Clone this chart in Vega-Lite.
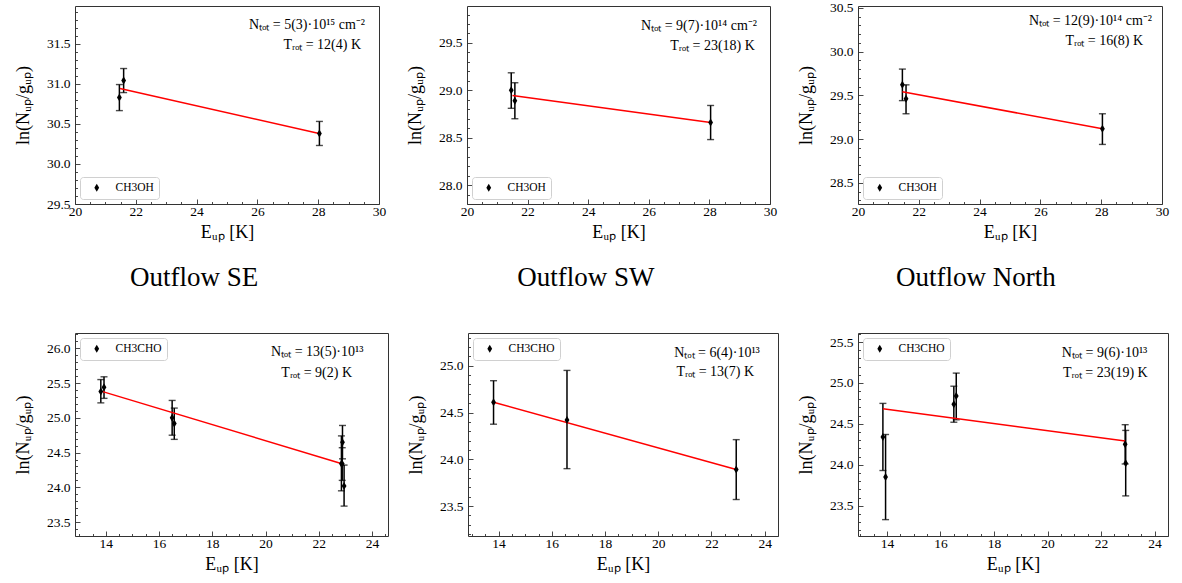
{
  "$schema": "https://vega.github.io/schema/vega-lite/v6.json",
  "padding": {"left": 13, "top": 0, "right": 5, "bottom": 5},
  "background": "white",
  "datasets": {
    "t1": [
      {"E": 21.46, "lnN": 30.83, "lo": 30.665, "hi": 30.99, "mol": "CH3OH"},
      {"E": 21.6, "lnN": 31.04, "lo": 30.89, "hi": 31.19, "mol": "CH3OH"},
      {"E": 28.04, "lnN": 30.38, "lo": 30.23, "hi": 30.53, "mol": "CH3OH"}
    ],
    "f1": [{"E": 21.48, "lnN": 30.94}, {"E": 28.03, "lnN": 30.38}],
    "t2": [
      {"E": 21.46, "lnN": 29.0, "lo": 28.81, "hi": 29.185, "mol": "CH3OH"},
      {"E": 21.58, "lnN": 28.89, "lo": 28.7, "hi": 29.08, "mol": "CH3OH"},
      {"E": 28.04, "lnN": 28.66, "lo": 28.48, "hi": 28.84, "mol": "CH3OH"}
    ],
    "f2": [{"E": 21.5, "lnN": 28.945}, {"E": 28.04, "lnN": 28.66}],
    "t3": [
      {"E": 21.46, "lnN": 29.62, "lo": 29.44, "hi": 29.8, "mol": "CH3OH"},
      {"E": 21.58, "lnN": 29.46, "lo": 29.29, "hi": 29.62, "mol": "CH3OH"},
      {"E": 28.04, "lnN": 29.12, "lo": 28.94, "hi": 29.29, "mol": "CH3OH"}
    ],
    "f3": [{"E": 21.46, "lnN": 29.54}, {"E": 28.04, "lnN": 29.12}],
    "b1": [
      {"E": 13.81, "lnN": 25.38, "lo": 25.215, "hi": 25.55, "mol": "CH3CHO"},
      {"E": 13.93, "lnN": 25.44, "lo": 25.28, "hi": 25.59, "mol": "CH3CHO"},
      {"E": 16.49, "lnN": 25.0, "lo": 24.75, "hi": 25.25, "mol": "CH3CHO"},
      {"E": 16.57, "lnN": 24.92, "lo": 24.69, "hi": 25.14, "mol": "CH3CHO"},
      {"E": 22.89, "lnN": 24.65, "lo": 24.41, "hi": 24.89, "mol": "CH3CHO"},
      {"E": 22.85, "lnN": 24.34, "lo": 23.95, "hi": 24.74, "mol": "CH3CHO"},
      {"E": 22.88, "lnN": 24.34, "lo": 24.1, "hi": 24.57, "mol": "CH3CHO"},
      {"E": 22.95, "lnN": 24.02, "lo": 23.73, "hi": 24.32, "mol": "CH3CHO"}
    ],
    "g1": [{"E": 13.85, "lnN": 25.38}, {"E": 22.87, "lnN": 24.34}],
    "b2": [
      {"E": 13.81, "lnN": 24.61, "lo": 24.375, "hi": 24.84, "mol": "CH3CHO"},
      {"E": 16.57, "lnN": 24.42, "lo": 23.9, "hi": 24.95, "mol": "CH3CHO"},
      {"E": 22.93, "lnN": 23.89, "lo": 23.57, "hi": 24.21, "mol": "CH3CHO"}
    ],
    "g2": [{"E": 13.81, "lnN": 24.61}, {"E": 22.93, "lnN": 23.89}],
    "b3": [
      {"E": 13.85, "lnN": 24.34, "lo": 23.93, "hi": 24.75, "mol": "CH3CHO"},
      {"E": 13.95, "lnN": 23.85, "lo": 23.33, "hi": 24.37, "mol": "CH3CHO"},
      {"E": 16.5, "lnN": 24.74, "lo": 24.52, "hi": 24.96, "mol": "CH3CHO"},
      {"E": 16.59, "lnN": 24.84, "lo": 24.55, "hi": 25.12, "mol": "CH3CHO"},
      {"E": 22.9, "lnN": 24.25, "lo": 24.01, "hi": 24.49, "mol": "CH3CHO"},
      {"E": 22.92, "lnN": 24.02, "lo": 23.62, "hi": 24.42, "mol": "CH3CHO"}
    ],
    "g3": [{"E": 13.85, "lnN": 24.685}, {"E": 22.9, "lnN": 24.29}],
    "one": [{"k": 1}]
  },
  "config": {
    "font": "Liberation Serif",
    "view": {"stroke": "#333", "strokeWidth": 1},
    "axis": {
      "domain": false, "grid": false,
      "labelFont": "Liberation Serif", "labelFontSize": 13.5, "labelColor": "black",
      "tickColor": "#333", "tickWidth": 0.9,
      "titleFont": "Liberation Serif", "titleFontSize": 18, "titleFontWeight": "normal", "titleColor": "black"
    },
    "axisX": {"labelPadding": 5, "titlePadding": 6},
    "axisY": {"labelPadding": 10, "titlePadding": 14},
    "legend": {
      "title": null, "offset": 5, "padding": 5, "strokeColor": "#d0d0d0", "cornerRadius": 3,
      "fillColor": "white", "labelFont": "Liberation Serif", "labelFontSize": 11.5, "labelColor": "black",
      "symbolSize": 64, "labelOffset": 13, "symbolOffset": 6, "symbolStrokeWidth": 0
    },
    "title": {"font": "Liberation Serif", "fontSize": 27, "fontWeight": "normal", "color": "black", "anchor": "middle", "frame": "bounds", "offset": 41, "dx": -7},
    "text": {"font": "Liberation Serif", "fontSize": 14, "color": "black", "align": "center", "baseline": "middle"}
  },
  "resolve": {"scale": {"color": "independent"}, "legend": {"color": "independent"}},
  "spacing": 21,
  "vconcat": [
    {
      "hconcat": [
        {
          "width": 304, "height": 198,
          "resolve": {"axis": {"x": "independent", "y": "independent"}},
          "layer": [
            {"layer": [
              {"data": {"name": "t1"}, "mark": {"type": "rule", "color": "black", "strokeWidth": 1.5},
               "encoding": {
                 "x": {"field": "E", "type": "quantitative", "scale": {"domain": [20, 30], "nice": false, "zero": false},
                       "axis": {"orient": "bottom", "title": "Eᵤₚ [K]", "labelOverlap": false, "labelFlush": false, "values": [20,22,24,26,28,30], "format": "d", "tickSize": -5}},
                 "y": {"field": "lo", "type": "quantitative", "scale": {"domain": [29.5, 31.97], "nice": false, "zero": false},
                       "axis": {"orient": "left", "title": "ln(Nᵤₚ/gᵤₚ)", "labelOverlap": false, "labelFlush": false, "values": [29.5,30.0,30.5,31.0,31.5], "format": ".1f", "tickSize": -5}},
                 "y2": {"field": "hi"}}},
              {"data": {"name": "t1"}, "mark": {"type": "tick", "orient": "horizontal", "color": "black", "size": 7, "thickness": 1.4},
               "encoding": {"x": {"field": "E", "type": "quantitative"}, "y": {"field": "lo", "type": "quantitative"}}},
              {"data": {"name": "t1"}, "mark": {"type": "tick", "orient": "horizontal", "color": "black", "size": 7, "thickness": 1.4},
               "encoding": {"x": {"field": "E", "type": "quantitative"}, "y": {"field": "hi", "type": "quantitative"}}},
              {"data": {"name": "f1"}, "mark": {"type": "line", "color": "red", "strokeWidth": 1.5},
               "encoding": {"x": {"field": "E", "type": "quantitative"}, "y": {"field": "lnN", "type": "quantitative"}}},
              {"data": {"name": "t1"}, "mark": {"type": "point", "shape": "M0,-1L0.6,0L0,1L-0.6,0Z", "filled": true, "opacity": 1, "size": 64},
               "encoding": {"x": {"field": "E", "type": "quantitative"}, "y": {"field": "lnN", "type": "quantitative"},
                            "color": {"field": "mol", "type": "nominal", "scale": {"range": ["black"]}, "legend": {"orient": "bottom-left"}}}},
              {"data": {"name": "one"}, "mark": {"type": "text", "align": "right"}, "encoding": {"x": {"datum": 29.54, "type": "quantitative"}, "y": {"datum": 31.735, "type": "quantitative"}, "text": {"value": "Nₜₒₜ = 5(3)·10¹⁵ cm⁻²"}}},
              {"data": {"name": "one"}, "mark": {"type": "text", "align": "right"}, "encoding": {"x": {"datum": 29.41, "type": "quantitative"}, "y": {"datum": 31.484, "type": "quantitative"}, "text": {"value": "Tᵣₒₜ = 12(4) K"}}}
            ]},
            {"data": {"name": "f1"}, "mark": {"type": "point", "opacity": 0},
             "encoding": {
               "x": {"field": "E", "type": "quantitative", "scale": {"domain": [20, 30], "nice": false, "zero": false},
                     "axis": {"orient": "bottom", "title": null, "labels": false, "values": [20.5,21,21.5,22.5,23,23.5,24.5,25,25.5,26.5,27,27.5,28.5,29,29.5], "tickSize": -2.5}},
               "y": {"field": "lnN", "type": "quantitative", "scale": {"domain": [29.5, 31.97], "nice": false, "zero": false},
                     "axis": {"orient": "left", "title": null, "labels": false, "values": [29.6,29.7,29.8,29.9,30.1,30.2,30.3,30.4,30.6,30.7,30.8,30.9,31.1,31.2,31.3,31.4,31.6,31.7,31.8,31.9], "tickSize": -2.5}}}}
          ]
        },
        {
          "width": 303, "height": 198,
          "resolve": {"axis": {"x": "independent", "y": "independent"}},
          "layer": [
            {"layer": [
              {"data": {"name": "t2"}, "mark": {"type": "rule", "color": "black", "strokeWidth": 1.5},
               "encoding": {
                 "x": {"field": "E", "type": "quantitative", "scale": {"domain": [20, 30], "nice": false, "zero": false},
                       "axis": {"orient": "bottom", "title": "Eᵤₚ [K]", "labelOverlap": false, "labelFlush": false, "values": [20,22,24,26,28,30], "format": "d", "tickSize": -5}},
                 "y": {"field": "lo", "type": "quantitative", "scale": {"domain": [27.8, 29.89], "nice": false, "zero": false},
                       "axis": {"orient": "left", "title": "ln(Nᵤₚ/gᵤₚ)", "labelOverlap": false, "labelFlush": false, "values": [28.0,28.5,29.0,29.5], "format": ".1f", "tickSize": -5}},
                 "y2": {"field": "hi"}}},
              {"data": {"name": "t2"}, "mark": {"type": "tick", "orient": "horizontal", "color": "black", "size": 7, "thickness": 1.4},
               "encoding": {"x": {"field": "E", "type": "quantitative"}, "y": {"field": "lo", "type": "quantitative"}}},
              {"data": {"name": "t2"}, "mark": {"type": "tick", "orient": "horizontal", "color": "black", "size": 7, "thickness": 1.4},
               "encoding": {"x": {"field": "E", "type": "quantitative"}, "y": {"field": "hi", "type": "quantitative"}}},
              {"data": {"name": "f2"}, "mark": {"type": "line", "color": "red", "strokeWidth": 1.5},
               "encoding": {"x": {"field": "E", "type": "quantitative"}, "y": {"field": "lnN", "type": "quantitative"}}},
              {"data": {"name": "t2"}, "mark": {"type": "point", "shape": "M0,-1L0.6,0L0,1L-0.6,0Z", "filled": true, "opacity": 1, "size": 64},
               "encoding": {"x": {"field": "E", "type": "quantitative"}, "y": {"field": "lnN", "type": "quantitative"},
                            "color": {"field": "mol", "type": "nominal", "scale": {"range": ["black"]}, "legend": {"orient": "bottom-left"}}}},
              {"data": {"name": "one"}, "mark": {"type": "text", "align": "right"}, "encoding": {"x": {"datum": 29.57, "type": "quantitative"}, "y": {"datum": 29.68, "type": "quantitative"}, "text": {"value": "Nₜₒₜ = 9(7)·10¹⁴ cm⁻²"}}},
              {"data": {"name": "one"}, "mark": {"type": "text", "align": "right"}, "encoding": {"x": {"datum": 29.5, "type": "quantitative"}, "y": {"datum": 29.47, "type": "quantitative"}, "text": {"value": "Tᵣₒₜ = 23(18) K"}}}
            ]},
            {"data": {"name": "f2"}, "mark": {"type": "point", "opacity": 0},
             "encoding": {
               "x": {"field": "E", "type": "quantitative", "scale": {"domain": [20, 30], "nice": false, "zero": false},
                     "axis": {"orient": "bottom", "title": null, "labels": false, "values": [20.5,21,21.5,22.5,23,23.5,24.5,25,25.5,26.5,27,27.5,28.5,29,29.5], "tickSize": -2.5}},
               "y": {"field": "lnN", "type": "quantitative", "scale": {"domain": [27.8, 29.89], "nice": false, "zero": false},
                     "axis": {"orient": "left", "title": null, "labels": false, "values": [27.8,27.9,28.1,28.2,28.3,28.4,28.6,28.7,28.8,28.9,29.1,29.2,29.3,29.4,29.6,29.7,29.8], "tickSize": -2.5}}}}
          ]
        },
        {
          "width": 304, "height": 198,
          "resolve": {"axis": {"x": "independent", "y": "independent"}},
          "layer": [
            {"layer": [
              {"data": {"name": "t3"}, "mark": {"type": "rule", "color": "black", "strokeWidth": 1.5},
               "encoding": {
                 "x": {"field": "E", "type": "quantitative", "scale": {"domain": [20, 30], "nice": false, "zero": false},
                       "axis": {"orient": "bottom", "title": "Eᵤₚ [K]", "labelOverlap": false, "labelFlush": false, "values": [20,22,24,26,28,30], "format": "d", "tickSize": -5}},
                 "y": {"field": "lo", "type": "quantitative", "scale": {"domain": [28.26, 30.52], "nice": false, "zero": false},
                       "axis": {"orient": "left", "title": "ln(Nᵤₚ/gᵤₚ)", "labelOverlap": false, "labelFlush": false, "values": [28.5,29.0,29.5,30.0,30.5], "format": ".1f", "tickSize": -5}},
                 "y2": {"field": "hi"}}},
              {"data": {"name": "t3"}, "mark": {"type": "tick", "orient": "horizontal", "color": "black", "size": 7, "thickness": 1.4},
               "encoding": {"x": {"field": "E", "type": "quantitative"}, "y": {"field": "lo", "type": "quantitative"}}},
              {"data": {"name": "t3"}, "mark": {"type": "tick", "orient": "horizontal", "color": "black", "size": 7, "thickness": 1.4},
               "encoding": {"x": {"field": "E", "type": "quantitative"}, "y": {"field": "hi", "type": "quantitative"}}},
              {"data": {"name": "f3"}, "mark": {"type": "line", "color": "red", "strokeWidth": 1.5},
               "encoding": {"x": {"field": "E", "type": "quantitative"}, "y": {"field": "lnN", "type": "quantitative"}}},
              {"data": {"name": "t3"}, "mark": {"type": "point", "shape": "M0,-1L0.6,0L0,1L-0.6,0Z", "filled": true, "opacity": 1, "size": 64},
               "encoding": {"x": {"field": "E", "type": "quantitative"}, "y": {"field": "lnN", "type": "quantitative"},
                            "color": {"field": "mol", "type": "nominal", "scale": {"range": ["black"]}, "legend": {"orient": "bottom-left"}}}},
              {"data": {"name": "one"}, "mark": {"type": "text", "align": "right"}, "encoding": {"x": {"datum": 29.67, "type": "quantitative"}, "y": {"datum": 30.347, "type": "quantitative"}, "text": {"value": "Nₜₒₜ = 12(9)·10¹⁴ cm⁻²"}}},
              {"data": {"name": "one"}, "mark": {"type": "text", "align": "right"}, "encoding": {"x": {"datum": 29.38, "type": "quantitative"}, "y": {"datum": 30.115, "type": "quantitative"}, "text": {"value": "Tᵣₒₜ = 16(8) K"}}}
            ]},
            {"data": {"name": "f3"}, "mark": {"type": "point", "opacity": 0},
             "encoding": {
               "x": {"field": "E", "type": "quantitative", "scale": {"domain": [20, 30], "nice": false, "zero": false},
                     "axis": {"orient": "bottom", "title": null, "labels": false, "values": [20.5,21,21.5,22.5,23,23.5,24.5,25,25.5,26.5,27,27.5,28.5,29,29.5], "tickSize": -2.5}},
               "y": {"field": "lnN", "type": "quantitative", "scale": {"domain": [28.26, 30.52], "nice": false, "zero": false},
                     "axis": {"orient": "left", "title": null, "labels": false, "values": [28.3,28.4,28.6,28.7,28.8,28.9,29.1,29.2,29.3,29.4,29.6,29.7,29.8,29.9,30.1,30.2,30.3,30.4], "tickSize": -2.5}}}}
          ]
        }
      ],
      "spacing": 88,
      "bounds": "flush",
      "resolve": {"scale": {"color": "independent"}, "legend": {"color": "independent"}}
    },
    {
      "hconcat": [
        {
          "width": 313, "height": 203,
          "title": {"text": "Outflow SE"},
          "resolve": {"axis": {"x": "independent", "y": "independent"}},
          "layer": [
            {"layer": [
              {"data": {"name": "b1"}, "mark": {"type": "rule", "color": "black", "strokeWidth": 1.5},
               "encoding": {
                 "x": {"field": "E", "type": "quantitative", "scale": {"domain": [12.84, 24.6], "nice": false, "zero": false},
                       "axis": {"orient": "bottom", "title": "Eᵤₚ [K]", "labelOverlap": false, "labelFlush": false, "values": [14,16,18,20,22,24], "format": "d", "tickSize": -5}},
                 "y": {"field": "lo", "type": "quantitative", "scale": {"domain": [23.3, 26.22], "nice": false, "zero": false},
                       "axis": {"orient": "left", "title": "ln(Nᵤₚ/gᵤₚ)", "labelOverlap": false, "labelFlush": false, "values": [23.5,24.0,24.5,25.0,25.5,26.0], "format": ".1f", "tickSize": -5}},
                 "y2": {"field": "hi"}}},
              {"data": {"name": "b1"}, "mark": {"type": "tick", "orient": "horizontal", "color": "black", "size": 7, "thickness": 1.4},
               "encoding": {"x": {"field": "E", "type": "quantitative"}, "y": {"field": "lo", "type": "quantitative"}}},
              {"data": {"name": "b1"}, "mark": {"type": "tick", "orient": "horizontal", "color": "black", "size": 7, "thickness": 1.4},
               "encoding": {"x": {"field": "E", "type": "quantitative"}, "y": {"field": "hi", "type": "quantitative"}}},
              {"data": {"name": "g1"}, "mark": {"type": "line", "color": "red", "strokeWidth": 1.5},
               "encoding": {"x": {"field": "E", "type": "quantitative"}, "y": {"field": "lnN", "type": "quantitative"}}},
              {"data": {"name": "b1"}, "mark": {"type": "point", "shape": "M0,-1L0.6,0L0,1L-0.6,0Z", "filled": true, "opacity": 1, "size": 64},
               "encoding": {"x": {"field": "E", "type": "quantitative"}, "y": {"field": "lnN", "type": "quantitative"},
                            "color": {"field": "mol", "type": "nominal", "scale": {"range": ["black"]}, "legend": {"orient": "top-left"}}}},
              {"data": {"name": "one"}, "mark": {"type": "text"}, "encoding": {"x": {"datum": 21.94, "type": "quantitative"}, "y": {"datum": 25.95, "type": "quantitative"}, "text": {"value": "Nₜₒₜ = 13(5)·10¹³"}}},
              {"data": {"name": "one"}, "mark": {"type": "text"}, "encoding": {"x": {"datum": 21.92, "type": "quantitative"}, "y": {"datum": 25.65, "type": "quantitative"}, "text": {"value": "Tᵣₒₜ = 9(2) K"}}}
            ]},
            {"data": {"name": "g1"}, "mark": {"type": "point", "opacity": 0},
             "encoding": {
               "x": {"field": "E", "type": "quantitative", "scale": {"domain": [12.84, 24.6], "nice": false, "zero": false},
                     "axis": {"orient": "bottom", "title": null, "labels": false, "values": [13,13.5,14.5,15,15.5,16.5,17,17.5,18.5,19,19.5,20.5,21,21.5,22.5,23,23.5,24.5], "tickSize": -2.5}},
               "y": {"field": "lnN", "type": "quantitative", "scale": {"domain": [23.3, 26.22], "nice": false, "zero": false},
                     "axis": {"orient": "left", "title": null, "labels": false, "values": [23.3,23.4,23.6,23.7,23.8,23.9,24.1,24.2,24.3,24.4,24.6,24.7,24.8,24.9,25.1,25.2,25.3,25.4,25.6,25.7,25.8,25.9,26.1,26.2], "tickSize": -2.5}}}}
          ]
        },
        {
          "width": 310, "height": 203,
          "title": {"text": "Outflow SW"},
          "resolve": {"axis": {"x": "independent", "y": "independent"}},
          "layer": [
            {"layer": [
              {"data": {"name": "b2"}, "mark": {"type": "rule", "color": "black", "strokeWidth": 1.5},
               "encoding": {
                 "x": {"field": "E", "type": "quantitative", "scale": {"domain": [12.85, 24.5], "nice": false, "zero": false},
                       "axis": {"orient": "bottom", "title": "Eᵤₚ [K]", "labelOverlap": false, "labelFlush": false, "values": [14,16,18,20,22,24], "format": "d", "tickSize": -5}},
                 "y": {"field": "lo", "type": "quantitative", "scale": {"domain": [23.18, 25.35], "nice": false, "zero": false},
                       "axis": {"orient": "left", "title": "ln(Nᵤₚ/gᵤₚ)", "labelOverlap": false, "labelFlush": false, "values": [23.5,24.0,24.5,25.0], "format": ".1f", "tickSize": -5}},
                 "y2": {"field": "hi"}}},
              {"data": {"name": "b2"}, "mark": {"type": "tick", "orient": "horizontal", "color": "black", "size": 7, "thickness": 1.4},
               "encoding": {"x": {"field": "E", "type": "quantitative"}, "y": {"field": "lo", "type": "quantitative"}}},
              {"data": {"name": "b2"}, "mark": {"type": "tick", "orient": "horizontal", "color": "black", "size": 7, "thickness": 1.4},
               "encoding": {"x": {"field": "E", "type": "quantitative"}, "y": {"field": "hi", "type": "quantitative"}}},
              {"data": {"name": "g2"}, "mark": {"type": "line", "color": "red", "strokeWidth": 1.5},
               "encoding": {"x": {"field": "E", "type": "quantitative"}, "y": {"field": "lnN", "type": "quantitative"}}},
              {"data": {"name": "b2"}, "mark": {"type": "point", "shape": "M0,-1L0.6,0L0,1L-0.6,0Z", "filled": true, "opacity": 1, "size": 64},
               "encoding": {"x": {"field": "E", "type": "quantitative"}, "y": {"field": "lnN", "type": "quantitative"},
                            "color": {"field": "mol", "type": "nominal", "scale": {"range": ["black"]}, "legend": {"orient": "top-left"}}}},
              {"data": {"name": "one"}, "mark": {"type": "text"}, "encoding": {"x": {"datum": 22.21, "type": "quantitative"}, "y": {"datum": 25.14, "type": "quantitative"}, "text": {"value": "Nₜₒₜ = 6(4)·10¹³"}}},
              {"data": {"name": "one"}, "mark": {"type": "text"}, "encoding": {"x": {"datum": 22.14, "type": "quantitative"}, "y": {"datum": 24.93, "type": "quantitative"}, "text": {"value": "Tᵣₒₜ = 13(7) K"}}}
            ]},
            {"data": {"name": "g2"}, "mark": {"type": "point", "opacity": 0},
             "encoding": {
               "x": {"field": "E", "type": "quantitative", "scale": {"domain": [12.85, 24.5], "nice": false, "zero": false},
                     "axis": {"orient": "bottom", "title": null, "labels": false, "values": [13,13.5,14.5,15,15.5,16.5,17,17.5,18.5,19,19.5,20.5,21,21.5,22.5,23,23.5,24.5], "tickSize": -2.5}},
               "y": {"field": "lnN", "type": "quantitative", "scale": {"domain": [23.18, 25.35], "nice": false, "zero": false},
                     "axis": {"orient": "left", "title": null, "labels": false, "values": [23.2,23.3,23.4,23.6,23.7,23.8,23.9,24.1,24.2,24.3,24.4,24.6,24.7,24.8,24.9,25.1,25.2,25.3], "tickSize": -2.5}}}}
          ]
        },
        {
          "width": 310, "height": 203,
          "title": {"text": "Outflow North"},
          "resolve": {"axis": {"x": "independent", "y": "independent"}},
          "layer": [
            {"layer": [
              {"data": {"name": "b3"}, "mark": {"type": "rule", "color": "black", "strokeWidth": 1.5},
               "encoding": {
                 "x": {"field": "E", "type": "quantitative", "scale": {"domain": [12.92, 24.5], "nice": false, "zero": false},
                       "axis": {"orient": "bottom", "title": "Eᵤₚ [K]", "labelOverlap": false, "labelFlush": false, "values": [14,16,18,20,22,24], "format": "d", "tickSize": -5}},
                 "y": {"field": "lo", "type": "quantitative", "scale": {"domain": [23.13, 25.61], "nice": false, "zero": false},
                       "axis": {"orient": "left", "title": "ln(Nᵤₚ/gᵤₚ)", "labelOverlap": false, "labelFlush": false, "values": [23.5,24.0,24.5,25.0,25.5], "format": ".1f", "tickSize": -5}},
                 "y2": {"field": "hi"}}},
              {"data": {"name": "b3"}, "mark": {"type": "tick", "orient": "horizontal", "color": "black", "size": 7, "thickness": 1.4},
               "encoding": {"x": {"field": "E", "type": "quantitative"}, "y": {"field": "lo", "type": "quantitative"}}},
              {"data": {"name": "b3"}, "mark": {"type": "tick", "orient": "horizontal", "color": "black", "size": 7, "thickness": 1.4},
               "encoding": {"x": {"field": "E", "type": "quantitative"}, "y": {"field": "hi", "type": "quantitative"}}},
              {"data": {"name": "g3"}, "mark": {"type": "line", "color": "red", "strokeWidth": 1.5},
               "encoding": {"x": {"field": "E", "type": "quantitative"}, "y": {"field": "lnN", "type": "quantitative"}}},
              {"data": {"name": "b3"}, "mark": {"type": "point", "shape": "M0,-1L0.6,0L0,1L-0.6,0Z", "filled": true, "opacity": 1, "size": 64},
               "encoding": {"x": {"field": "E", "type": "quantitative"}, "y": {"field": "lnN", "type": "quantitative"},
                            "color": {"field": "mol", "type": "nominal", "scale": {"range": ["black"]}, "legend": {"orient": "top-left"}}}},
              {"data": {"name": "one"}, "mark": {"type": "text"}, "encoding": {"x": {"datum": 22.13, "type": "quantitative"}, "y": {"datum": 25.37, "type": "quantitative"}, "text": {"value": "Nₜₒₜ = 9(6)·10¹³"}}},
              {"data": {"name": "one"}, "mark": {"type": "text"}, "encoding": {"x": {"datum": 22.16, "type": "quantitative"}, "y": {"datum": 25.125, "type": "quantitative"}, "text": {"value": "Tᵣₒₜ = 23(19) K"}}}
            ]},
            {"data": {"name": "g3"}, "mark": {"type": "point", "opacity": 0},
             "encoding": {
               "x": {"field": "E", "type": "quantitative", "scale": {"domain": [12.92, 24.5], "nice": false, "zero": false},
                     "axis": {"orient": "bottom", "title": null, "labels": false, "values": [13,13.5,14.5,15,15.5,16.5,17,17.5,18.5,19,19.5,20.5,21,21.5,22.5,23,23.5,24.5], "tickSize": -2.5}},
               "y": {"field": "lnN", "type": "quantitative", "scale": {"domain": [23.13, 25.61], "nice": false, "zero": false},
                     "axis": {"orient": "left", "title": null, "labels": false, "values": [23.2,23.3,23.4,23.6,23.7,23.8,23.9,24.1,24.2,24.3,24.4,24.6,24.7,24.8,24.9,25.1,25.2,25.3,25.4,25.6], "tickSize": -2.5}}}}
          ]
        }
      ],
      "spacing": 80,
      "bounds": "flush",
      "resolve": {"scale": {"color": "independent"}, "legend": {"color": "independent"}}
    }
  ]
}
